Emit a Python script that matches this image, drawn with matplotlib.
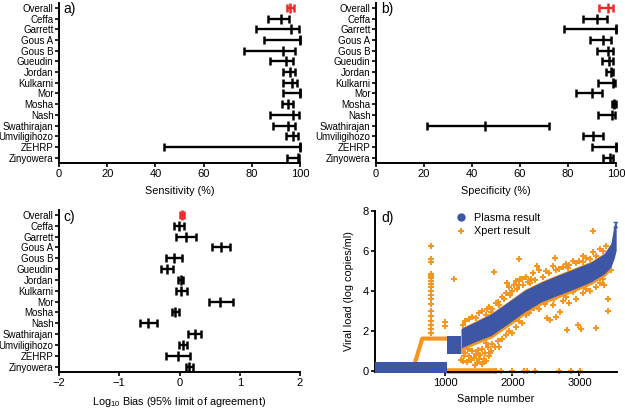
import numpy as np
import matplotlib
matplotlib.use("Agg")
from matplotlib import pyplot as plt
from matplotlib.lines import Line2D

plt.rcParams["font.family"] = ["Liberation Sans", "DejaVu Sans"]
plt.rcParams["mathtext.default"] = "regular"

# ---- data: panels a-c (study, lower, estimate, upper) ----
studies = ["Overall", "Ceffa", "Garrett", "Gous A", "Gous B", "Gueudin", "Jordan",
           "Kulkarni", "Mor", "Mosha", "Nash", "Swathirajan", "Umviligihozo",
           "ZEHRP", "Zinyowera"]

sens_mid = [96.0, 92.1, 96.1, 100.0, 92.8, 94.2, 95.8, 96.8, 100.0, 95.2, 97.2, 94.9, 97.2, 100.0, 99.0]
sens_lo = [94.6, 86.6, 81.7, 85.2, 76.9, 87.6, 92.8, 93.1, 92.8, 92.7, 87.6, 88.7, 94.2, 43.5, 94.7]
sens_hi = [97.4, 95.3, 99.6, 100.0, 97.8, 97.2, 97.9, 98.6, 100.0, 97.2, 99.6, 97.9, 99.0, 100.0, 99.6]

spec_mid = [96.5, 92.2, 100.0, 94.4, 96.8, 97.2, 97.8, 98.6, 89.9, 99.2, 98.5, 45.4, 90.3, 100.0, 97.5]
spec_lo = [93.1, 86.4, 78.5, 89.2, 92.2, 94.0, 95.8, 92.6, 83.2, 98.2, 92.4, 21.4, 86.1, 89.9, 94.7]
spec_hi = [98.6, 96.1, 100.0, 97.8, 98.9, 98.9, 98.9, 99.6, 94.0, 99.9, 99.6, 72.2, 94.7, 100.0, 98.9]

bias_mid = [0.04, -0.01, 0.10, 0.69, -0.09, -0.21, 0.02, 0.03, 0.68, -0.07, -0.52, 0.25, 0.06, -0.03, 0.16]
bias_lo = [0.01, -0.09, -0.05, 0.54, -0.23, -0.31, -0.03, -0.05, 0.49, -0.12, -0.66, 0.14, -0.01, -0.22, 0.10]
bias_hi = [0.07, 0.08, 0.28, 0.84, 0.04, -0.11, 0.06, 0.12, 0.88, -0.01, -0.37, 0.36, 0.13, 0.17, 0.23]

# ---- data: panel d ----
# plasma result band (NaN = gap between groups)
plasma_x = [-45, 1030, np.nan, 1025, 1240, np.nan, 1240, 1445, 1693, 1940, 2188, 2436, 2683, 2931, 3178, 3376, 3475, 3525, 3555]
plasma_lo = [-0.08, -0.08, np.nan, 0.85, 0.85, np.nan, 1.13, 1.43, 1.76, 2.33, 2.93, 3.43, 3.76, 4.08, 4.43, 4.83, 5.16, 5.60, 6.00]
plasma_hi = [0.45, 0.45, np.nan, 1.74, 1.74, np.nan, 2.09, 2.42, 2.84, 3.42, 4.01, 4.42, 4.76, 5.09, 5.42, 5.84, 6.34, 7.30, 7.45]

# xpert dense parts
xpert_step_x = [480, 545, 655, 1030]
xpert_step_y = [0.0, 0.40, 1.62, 1.62]
xpert_zero_x = [1050, 1710]
xpert_band_x = [1240, 1445, 1693, 1940, 2188, 2436, 2683, 2931, 3178, 3376, 3475]
xpert_band_lo = [1.03, 1.33, 1.66, 2.23, 2.83, 3.33, 3.66, 3.98, 4.33, 4.73, 5.06]
xpert_band_hi = [2.17, 2.50, 2.92, 3.50, 4.09, 4.50, 4.84, 5.17, 5.50, 5.92, 6.42]

# xpert scattered points
xpert_x = [790, 790, 790, 790, 790, 790, 790, 790, 790, 790, 790, 790, 790, 790, 790, 790, 790, 790, 790,
           1000, 1000, 1134, 1728,
           1756, 1830, 1990, 2174, 2214, 2343, 2701, 2876, 3015,
           1230, 1270, 1300, 1330, 1350, 1380, 1400, 1420, 1450, 1470, 1490, 1500, 1520, 1540, 1550, 1570,
           1590, 1610, 1630, 1650, 1680, 1700, 1740, 1780, 1320, 1440, 1560, 1600, 1660, 1250, 1280,
           1260, 1300, 1350, 1400, 1450, 1500, 1550, 1600, 1650, 1700, 1750, 1800, 1850, 1900, 1950, 2000,
           2050, 2100, 2150, 2200, 2260, 2300, 2400, 2500, 2600, 2700, 2800, 2900, 3000, 3100, 3200, 3300, 3400,
           1880, 1920, 1970, 2020, 2070, 2120, 2160, 2230, 2280, 2330, 2450, 2550, 2650, 2750, 2850, 2950,
           3050, 3150, 3250, 3350, 1620, 1680, 1780,
           2099, 2371, 2634, 2832, 3054, 3203, 3475, 3366, 3426, 3426, 2807, 2980, 3020, 3252,
           1800, 1850, 1900, 1950, 2000, 2050, 2100, 2150, 2200, 2250, 2327, 2400, 2510, 2560, 2600, 2650,
           2708, 2750, 2850, 2950, 3050, 3150, 3250, 3350, 2300, 2480, 2620, 2800, 2900, 3100, 3300]
xpert_y = [6.25, 5.6, 5.45, 4.85, 4.75, 4.65, 4.5, 4.35, 4.2, 4.0, 3.8, 3.6, 3.35, 3.0, 2.75, 2.5, 2.3, 2.1, 1.9,
           2.47, 2.25, 4.6, 4.97,
           0, 0, 0, 0, 0, 0, 0, 0, 0,
           0.55, 0.5, 0.9, 1.1, 0.75, 0.55, 1.0, 0.65, 0.85, 0.4, 1.05, 0.6, 0.8, 0.35, 1.1, 0.6,
           0.9, 0.5, 1.2, 0.75, 1.0, 1.35, 1.2, 1.5, 0.45, 0.3, 0.45, 1.4, 0.9, 1.0, 0.75,
           2.3, 2.5, 2.6, 2.7, 2.65, 2.9, 3.0, 2.8, 3.2, 3.1, 3.4, 3.3, 3.7, 3.9, 4.2, 4.0,
           4.5, 4.3, 4.6, 4.7, 4.4, 4.9, 5.05, 5.0, 5.25, 5.1, 5.35, 5.5, 5.5, 5.65, 5.95, 6.1, 6.25,
           3.6, 4.4, 3.8, 4.3, 4.1, 4.6, 4.3, 4.45, 4.6, 4.55, 4.7, 4.9, 5.05, 5.2, 5.3, 5.4,
           5.45, 5.6, 5.75, 6.0, 3.1, 2.95, 3.45,
           5.6, 5.25, 5.67, 5.13, 5.77, 7.02, 5.05, 4.3, 3.58, 3.0, 2.05, 2.3, 2.1, 2.17,
           1.2, 1.6, 1.8, 2.0, 1.9, 2.2, 2.5, 2.4, 2.8, 2.9, 3.17, 3.1, 2.63, 2.55, 3.3, 2.7,
           2.97, 3.5, 3.4, 3.6, 3.9, 4.0, 4.2, 4.6, 3.3, 3.35, 3.6, 3.7, 3.95, 4.1, 4.4]

blue = "#3D56A6"
orange = "#F7961E"
red = "#EC2A2A"
W, H = 625, 408


def axes_px(left, right, top, bottom):
    return fig.add_axes([left / W, (H - bottom) / H, (right - left) / W, (bottom - top) / H])


def style(ax):
    for s in ["top", "right"]:
        ax.spines[s].set_visible(False)
    for s in ["left", "bottom"]:
        ax.spines[s].set_linewidth(1.4)
    ax.tick_params(direction="out", length=3, width=1.2, labelsize=8, pad=1.5)


def forest(ax, lo, mid, hi, xlim, xticks, xlabel, tag):
    n = len(studies)
    y = np.arange(n)
    for i in range(n):
        c = red if i == 0 else "black"
        ax.errorbar(mid[i], y[i], xerr=[[mid[i] - lo[i]], [hi[i] - mid[i]]], fmt="|", color=c,
                    ecolor=c, elinewidth=1.7, capsize=2.8, capthick=1.7, markersize=7, mew=1.8,
                    clip_on=False)
    ax.set_ylim(n - 0.5, -0.5)
    ax.set_yticks(y)
    ax.set_yticklabels(studies)
    ax.set_xlim(*xlim)
    ax.set_xticks(xticks)
    ax.set_xlabel(xlabel, fontsize=7.8, labelpad=5)
    style(ax)
    ax.tick_params(axis="y", labelsize=7.0, pad=1)
    ax.text(0.02, 1.0, tag, transform=ax.transAxes, fontsize=10, va="top", ha="left")


fig = plt.figure(figsize=(W / 100, H / 100), dpi=100)

ax_a = axes_px(59, 300, 2.5, 163)
forest(ax_a, sens_lo, sens_mid, sens_hi, (0, 100), [0, 20, 40, 60, 80, 100], "Sensitivity (%)", "a)")

ax_b = axes_px(376, 616, 2.5, 163)
forest(ax_b, spec_lo, spec_mid, spec_hi, (0, 100), [0, 20, 40, 60, 80, 100], "Specificity (%)", "b)")

ax_c = axes_px(59, 300, 209.5, 372)
forest(ax_c, bias_lo, bias_mid, bias_hi, (-2, 2), [-2, -1, 0, 1, 2],
       "Log$_{10}$ Bias (95% limit of agreement)", "c)")

# ---- panel d ----
ax_d = axes_px(375, 617, 211, 372)
ax_d.plot(xpert_step_x, xpert_step_y, color=orange, lw=3, zorder=1)
ax_d.plot(xpert_zero_x, [0, 0], color=orange, lw=4, zorder=1, clip_on=False)
ax_d.fill_between(xpert_band_x, xpert_band_lo, xpert_band_hi, color=orange, lw=0, zorder=1)
ax_d.plot(xpert_x, xpert_y, "P", color=orange, markersize=4.8, mew=0, ls="none", zorder=2, clip_on=False)
ax_d.fill_between(plasma_x, plasma_lo, plasma_hi, color=blue, lw=0, zorder=3, clip_on=False)
# cap on last plasma point
ax_d.errorbar([plasma_x[-1] - 10], [7.2], yerr=[[0], [0.25]], color=blue, capsize=2.5, lw=1.2, zorder=3)

ax_d.set_xlim(-50, 3560)
ax_d.set_ylim(-0.05, 8)
ax_d.set_xticks([1000, 2000, 3000])
ax_d.set_yticks([0, 2, 4, 6, 8])
ax_d.set_xlabel("Sample number", fontsize=7.8, labelpad=4)
ax_d.set_ylabel("Viral load (log copies/ml)", fontsize=7.8, labelpad=6)
style(ax_d)
ax_d.text(0.025, 1.0, "d)", transform=ax_d.transAxes, fontsize=10, va="top", ha="left")

handles = [Line2D([], [], marker="o", color=blue, ls="none", markersize=5),
           Line2D([], [], marker="P", color=orange, ls="none", markersize=4.8, mew=0)]
ax_d.legend(handles, ["Plasma result", "Xpert result"], loc="upper left", bbox_to_anchor=(0.29, 1.05),
            frameon=False, fontsize=7.8, handletextpad=0.6, labelspacing=0.35, handlelength=1.2)

fig.savefig("out.png", dpi=100)
